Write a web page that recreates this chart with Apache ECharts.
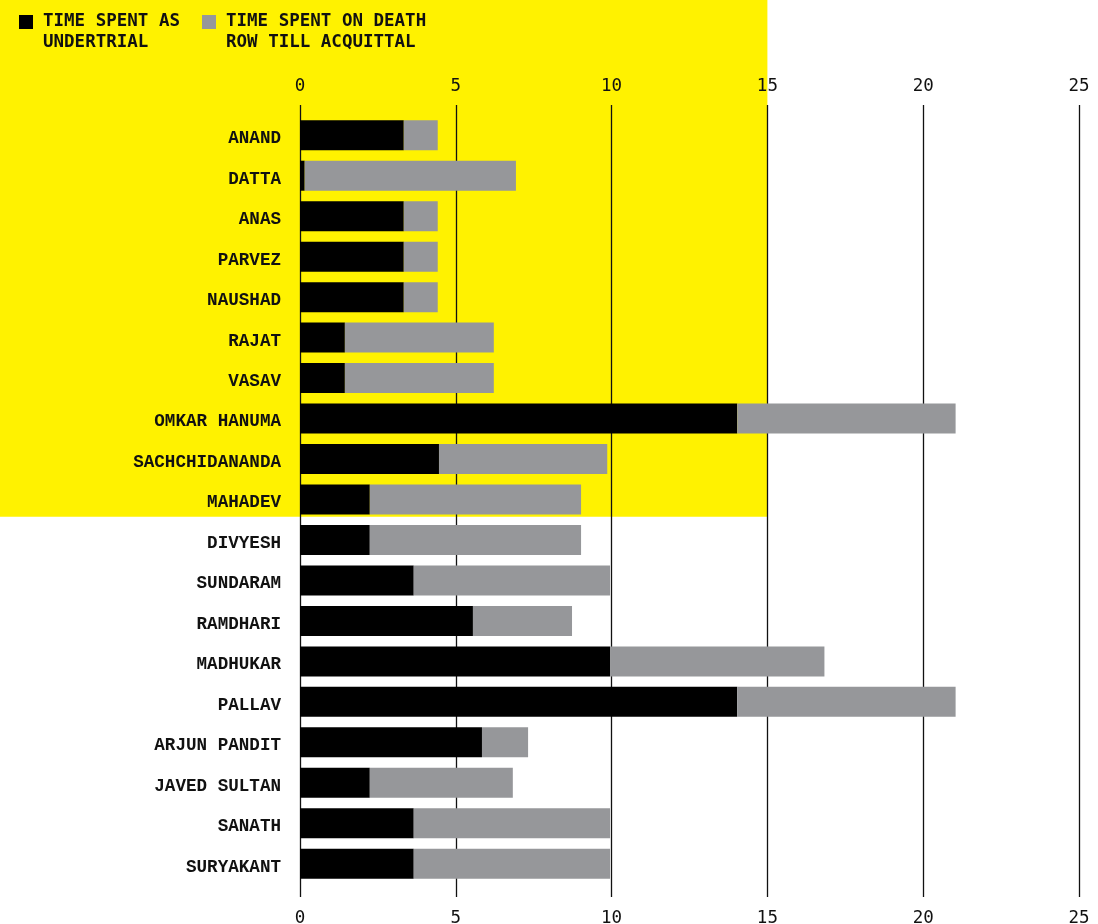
<!DOCTYPE html>
<html>
<head>
<meta charset="utf-8">
<script src="https://cdn.jsdelivr.net/npm/echarts@6/dist/echarts.min.js"></script>
<style>
html,body{margin:0;padding:0;background:#fff;}
#chart{width:1098px;height:924px;}
</style>
</head>
<body>
<div id="chart"></div>
<script>
const categories = ["ANAND","DATTA","ANAS","PARVEZ","NAUSHAD","RAJAT","VASAV","OMKAR HANUMA","SACHCHIDANANDA","MAHADEV","DIVYESH","SUNDARAM","RAMDHARI","MADHUKAR","PALLAV","ARJUN PANDIT","JAVED SULTAN","SANATH","SURYAKANT"];
// years spent as undertrial
const undertrial = [3.33,0.15,3.33,3.33,3.33,1.44,1.44,14.03,4.46,2.24,2.24,3.65,5.55,9.95,14.03,5.84,2.24,3.65,3.65];
// additional years on death row till acquittal
const deathRow = [1.09,6.78,1.09,1.09,1.09,4.78,4.78,7.01,5.40,6.78,6.78,6.30,3.18,6.88,7.01,1.48,4.59,6.30,6.30];
const xTicks = [0,5,10,15,20,25];
const seriesNames = ["TIME SPENT AS\nUNDERTRIAL","TIME SPENT ON DEATH\nROW TILL ACQUITTAL"];
const seriesColors = ['#000000','#96979a'];

const MONO = "'DejaVu Sans Mono', monospace";
const LABEL = "'Liberation Mono', 'DejaVu Sans Mono', monospace";
const chart = echarts.init(document.getElementById('chart'));
const xAxisBase = {
  type:'value', min:xTicks[0], max:xTicks[xTicks.length-1], interval:5,
  axisLine:{show:false},
  axisTick:{show:true, length:10, lineStyle:{color:'#111', width:1.3}},
  axisLabel:{fontFamily:MONO, fontSize:17.5, color:'#111', margin:20},
};
chart.setOption({
  animation:false,
  textStyle:{fontFamily:MONO},
  grid:{left:300, right:19, top:115, bottom:40, containLabel:false, outerBoundsMode:'none'},
  xAxis:[
    Object.assign({}, xAxisBase, {position:'top', splitLine:{show:true, lineStyle:{color:'#111', width:1.3}}}),
    Object.assign({}, xAxisBase, {position:'bottom', splitLine:{show:false},
      axisTick:{show:true, length:13, lineStyle:{color:'#111', width:1.3}},
      axisLabel:Object.assign({}, xAxisBase.axisLabel, {margin:25})})
  ],
  yAxis:{
    type:'category', data:categories, inverse:true,
    axisLine:{show:false}, axisTick:{show:false},
    axisLabel:{fontFamily:LABEL, fontWeight:'bold', fontSize:17.6, color:'#111', margin:19, verticalAlign:'top', lineHeight:7}
  },
  series:[
    {name:seriesNames[0], type:'bar', stack:'t', data:undertrial, barWidth:30, itemStyle:{color:seriesColors[0]}, xAxisIndex:0},
    {name:seriesNames[1], type:'bar', stack:'t', data:deathRow, barWidth:30, itemStyle:{color:seriesColors[1]}, xAxisIndex:0}
  ]
});
// yellow highlight box behind the first ten rows, up to 15 years
const xr = chart.convertToPixel({xAxisIndex:0}, 15);
const y1 = chart.convertToPixel({yAxisIndex:0}, categories[9]);
const y2 = chart.convertToPixel({yAxisIndex:0}, categories[10]);
const yb = (y1 + y2)/2 - 3;
const legendX = [19, 202];
const legendGraphics = [];
seriesNames.forEach((n, i) => {
  legendGraphics.push({type:'rect', z:10, silent:true, shape:{x:legendX[i], y:15, width:14, height:14}, style:{fill:seriesColors[i]}});
  legendGraphics.push({type:'text', z:10, silent:true, x:legendX[i]+24, y:11, style:{text:n, fill:'#111', font:"bold 17.5px 'DejaVu Sans Mono', monospace", lineHeight:21, textVerticalAlign:'top'}});
});
chart.setOption({
  graphic:[{type:'rect', z:-10, silent:true, shape:{x:0, y:0, width:xr, height:yb}, style:{fill:'#fff200'}}].concat(legendGraphics)
});
</script>
</body>
</html>
